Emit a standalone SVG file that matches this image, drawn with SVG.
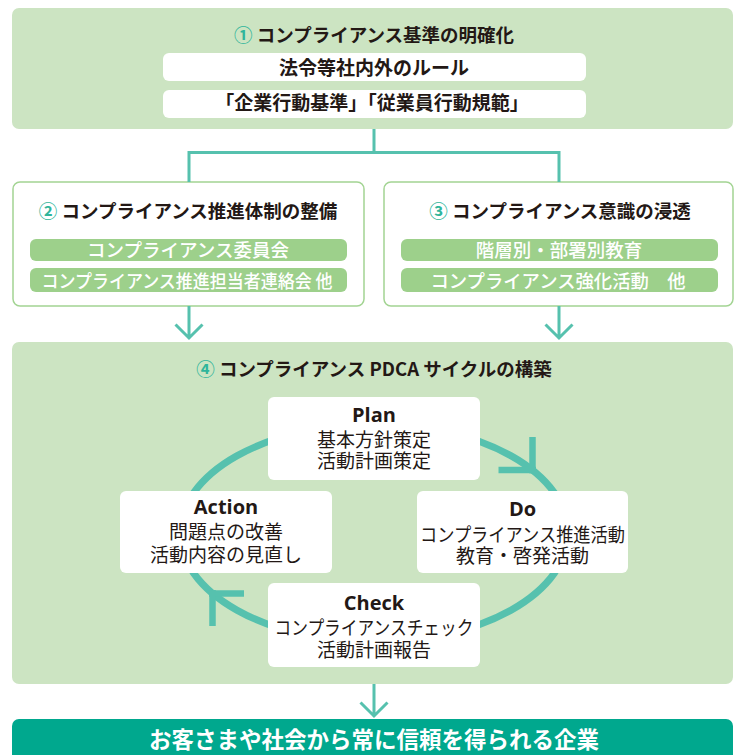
<svg xmlns="http://www.w3.org/2000/svg" width="734" height="755" viewBox="0 0 734 755">
<style>
text{font-family:"Noto Sans CJK JP","Noto Sans",sans-serif;text-anchor:middle;fill:#231815}
.ttl{font-size:18.5px;font-weight:700}
.num{fill:#2fb59b}
.wbar{fill:#fff}
.wtxt{font-size:19px;font-weight:700}
.gbar{fill:#9dd08b}
.gtxt{font-size:18.5px;font-weight:500;fill:#fff}
.panel{fill:#cce4c2}
.obox{fill:#fff;stroke:#a3d493;stroke-width:1.5}
.pbox{fill:#fff}
.en{font-family:"Open Sans","Noto Sans",sans-serif;font-size:20px;font-weight:700}
.jp{font-size:19px;font-weight:400}
.conn{fill:none;stroke:#56c1ae;stroke-width:3}
.cyc{fill:none;stroke:#56c1ae;stroke-width:7}
.head{fill:none;stroke:#56c1ae;stroke-width:6.5}
</style>

<g id="step1">
<rect class="panel" x="12" y="8" width="721" height="121" rx="7"/>
<text class="ttl" x="374" y="42"><tspan class="num">①</tspan> コンプライアンス基準の明確化</text>
<rect class="wbar" x="163" y="53" width="423" height="28" rx="6"/>
<text class="wtxt" x="374" y="75">法令等社内外のルール</text>
<rect class="wbar" x="163" y="90" width="423" height="28" rx="6"/>
<text class="wtxt" x="372" y="110">「企業行動基準」「従業員行動規範」</text>
</g>

<g id="step2">
<rect class="obox" x="13" y="182" width="351" height="124" rx="7"/>
<text class="ttl" x="188" y="218"><tspan class="num">②</tspan> コンプライアンス推進体制の整備</text>
<rect class="gbar" x="30" y="239" width="317" height="22" rx="6"/>
<text class="gtxt" x="188" y="257">コンプライアンス委員会</text>
<rect class="gbar" x="30" y="268" width="317" height="24" rx="6"/>
<text class="gtxt" x="187" y="287.5" textLength="291" lengthAdjust="spacingAndGlyphs">コンプライアンス推進担当者連絡会 他</text>
</g>

<g id="step3">
<rect class="obox" x="384" y="182" width="349" height="124" rx="7"/>
<text class="ttl" x="560" y="218"><tspan class="num">③</tspan> コンプライアンス意識の浸透</text>
<rect class="gbar" x="401" y="239" width="317" height="22" rx="6"/>
<text class="gtxt" x="559" y="257">階層別・部署別教育</text>
<rect class="gbar" x="401" y="268" width="317" height="24" rx="6"/>
<text class="gtxt" x="558" y="287.5" textLength="255" lengthAdjust="spacingAndGlyphs">コンプライアンス強化活動　他</text>
</g>

<g id="step4">
<rect class="panel" x="12" y="342" width="721" height="342" rx="7"/>
<text class="ttl" x="374" y="376"><tspan class="num">④</tspan> コンプライアンス PDCA サイクルの構築</text>
</g>

<g id="connectors">
<path class="conn" d="M374 129V152.5M189 182V152.5H559V182"/>
<path class="conn" d="M189 306V338M175.5 324.5L189 338L202.5 324.5"/>
<path class="conn" d="M559 306V338M545.5 324.5L559 338L572.5 324.5"/>
<path class="conn" d="M374 684V716M360.5 702.5L374 716L387.5 702.5"/>
<ellipse class="cyc" cx="374" cy="533" rx="194" ry="109"/>
<path class="head" d="M532.5 437V473.5M498.5 470H536"/>
<path class="head" d="M212.5 590V626M209 593.5H244"/>
</g>

<g id="plan">
<rect class="pbox" x="268" y="397" width="212" height="83" rx="6"/>
<text class="en" x="374" y="422">Plan</text>
<text class="jp" x="374" y="446.5">基本方針策定</text>
<text class="jp" x="374" y="468">活動計画策定</text>
</g>

<g id="do">
<rect class="pbox" x="417" y="491" width="211" height="82" rx="6"/>
<text class="en" x="522.5" y="516">Do</text>
<text class="jp" x="522.5" y="541.5" textLength="205" lengthAdjust="spacingAndGlyphs">コンプライアンス推進活動</text>
<text class="jp" x="522.5" y="563">教育・啓発活動</text>
</g>

<g id="check">
<rect class="pbox" x="268" y="583" width="212" height="84" rx="6"/>
<text class="en" x="374" y="610">Check</text>
<text class="jp" x="374" y="634.5" textLength="199" lengthAdjust="spacingAndGlyphs">コンプライアンスチェック</text>
<text class="jp" x="374" y="656.5">活動計画報告</text>
</g>

<g id="action">
<rect class="pbox" x="120" y="491" width="212" height="82" rx="6"/>
<text class="en" x="226" y="514">Action</text>
<text class="jp" x="226" y="538.5">問題点の改善</text>
<text class="jp" x="226" y="562">活動内容の見直し</text>
</g>

<g id="goal">
<rect x="12" y="719" width="721" height="44" rx="7" fill="#00a88e"/>
<text x="374" y="748" style="font-size:22.5px;font-weight:700;fill:#fff">お客さまや社会から常に信頼を得られる企業</text>
</g>
</svg>
